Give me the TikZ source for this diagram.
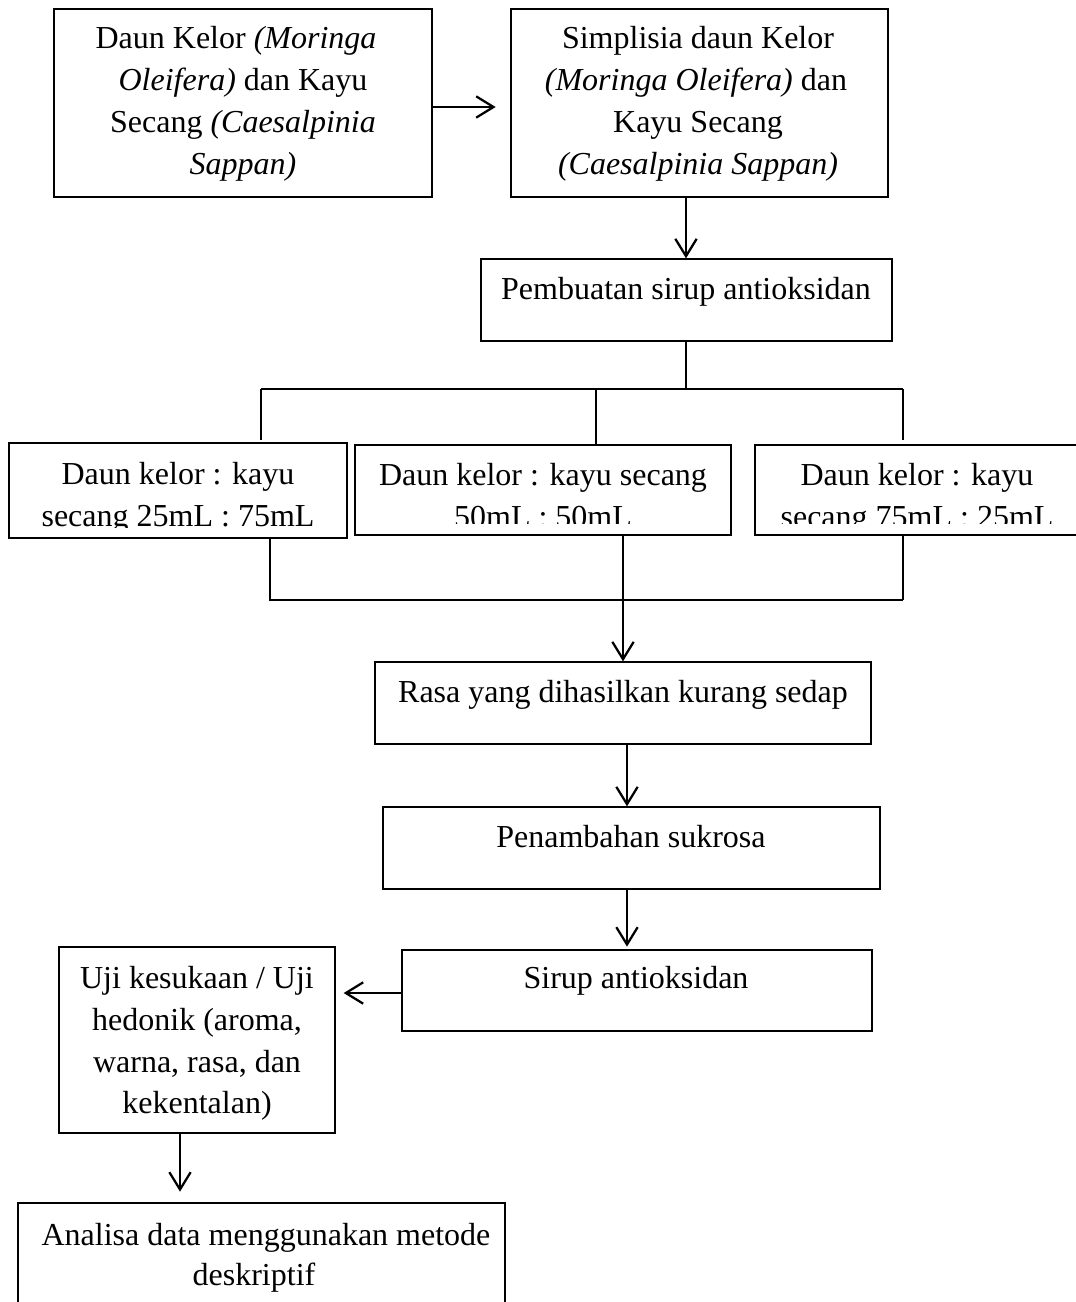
\documentclass[tikz,border=0pt]{standalone}
\usepackage{fontspec}
\setmainfont{Liberation Serif}
\usetikzlibrary{arrows.meta,fit}
\begin{document}
\begin{tikzpicture}[x=0.75pt,y=-0.75pt,
  box/.style={draw,line width=1pt,inner sep=0pt,rectangle},
  txt/.style={anchor=base,inner sep=0pt,font=\fontsize{24}{31.5}\selectfont},
  arr/.style={line width=1.7pt,-{Straight Barb[length=13pt,width=16pt,line width=1.7pt]}},
  ln/.style={line width=0.8pt}]
\useasboundingbox (0,0) rectangle (1075,1302);

% ---------- boxes ----------
\node[box, fit={(54,9) (432,197)}] (n1) {};
\node[box, fit={(511,9) (888,197)}] (n2) {};
\node[box, fit={(481,259) (892,341)}] (n3) {};
\node[box, fit={(9,443) (347,538)}] (nA) {};
\node[box, fit={(355,445) (731,535)}] (nB) {};
\node[box, fit={(755,445) (1079,535)}] (nC) {};
\node[box, fit={(375,662) (871,744)}] (rasa) {};
\node[box, fit={(383,807) (880,889)}] (pen) {};
\node[box, fit={(402,950) (872,1031)}] (sirup) {};
\node[box, fit={(59,947) (335,1133)}] (uji) {};
\node[box, fit={(18,1203) (505,1320)}] (ana) {};

% ---------- texts ----------
\node[txt] (t11) at (236,49) {Daun Kelor \textit{(Moringa}};
\node[txt] (t12) at (243,91) {\textit{Oleifera)} dan Kayu};
\node[txt] (t13) at (243,133) {Secang \textit{(Caesalpinia}};
\node[txt] (t14) at (243,175) {\textit{Sappan)}};

\node[txt] (t21) at (698,49) {Simplisia daun Kelor};
\node[txt] (t22) at (696,91) {\textit{(Moringa Oleifera)} dan};
\node[txt] (t23) at (698,133) {Kayu Secang};
\node[txt] (t24) at (698,175) {\textit{(Caesalpinia Sappan)}};

\node[txt] (t3) at (686,299) {Pembuatan sirup antioksidan};

\begin{scope}
  \clip (9,443) rectangle (347,527);
  \node[txt] (tA1) at (178,484) {Daun kelor : kayu};
  \node[txt] (tA2) at (178,526) {secang 25mL : 75mL};
\end{scope}
\begin{scope}
  \clip (355,445) rectangle (731,523.5);
  \node[txt] (tB1) at (543,485) {Daun kelor : kayu secang};
  \node[txt] (tB2) at (543,527) {50mL : 50mL};
\end{scope}
\begin{scope}
  \clip (755,445) rectangle (1079,523.5);
  \node[txt] (tC1) at (917,485) {Daun kelor : kayu};
  \node[txt] (tC2) at (917,527) {secang 75mL : 25mL};
\end{scope}

\node[txt] (tr) at (623,702) {Rasa yang dihasilkan kurang sedap};
\node[txt] (tp) at (631,847) {Penambahan sukrosa};
\node[txt] (ts) at (636,988) {Sirup antioksidan};

\node[txt] (tu1) at (197,988) {Uji kesukaan / Uji};
\node[txt] (tu2) at (197,1030) {hedonik (aroma,};
\node[txt] (tu3) at (197,1072) {warna, rasa, dan};
\node[txt] (tu4) at (197,1113) {kekentalan)};

\node[txt] (ta1) at (266,1245) {Analisa data menggunakan metode};
\node[txt] (ta2) at (254,1285) {deskriptif};

% ---------- helper coordinates ----------
\coordinate (y107) at (0,107);
\coordinate (x686) at (686,0);
\coordinate (fork) at (686,389);
\coordinate (fA) at (261,389);
\coordinate (fB) at (596,389);
\coordinate (fC) at (903,389);
\coordinate (eA) at (261,440);
\coordinate (eC) at (903,440);
\coordinate (mA) at (270,600);
\coordinate (mB) at (623,600);
\coordinate (mC) at (903,600);
\coordinate (x627) at (627,0);
\coordinate (y993) at (0,993);
\coordinate (x180) at (180,0);

% ---------- connectors ----------
\draw[arr] (n1.east |- y107) -- (n2.west |- y107) [shorten >=11pt];
\draw[arr] (n2.south -| x686) -- (n3.north -| x686);
\draw[ln] (n3.south -| x686) -- (fork);
\draw[ln] (fA) -- (fC);
\draw[ln] (fA) -- (eA);
\draw[ln] (fB) -- (nB.north -| fB);
\draw[ln] (fC) -- (eC);

\draw[ln] (nA.south -| mA) -- (mA) -- (mC);
\draw[ln] (nC.south -| mC) -- (mC);
\draw[ln] (nB.south -| mB) -- (mB);
\draw[arr] (mB) -- (rasa.north -| mB);

\draw[arr] (rasa.south -| x627) -- (pen.north -| x627);
\draw[arr] (pen.south -| x627) -- (sirup.north -| x627) [shorten >=2pt];
\draw[arr] (sirup.west |- y993) -- (uji.east |- y993) [shorten >=6pt];
\draw[arr] (uji.south -| x180) -- (ana.north -| x180) [shorten >=8pt];
\end{tikzpicture}
\end{document}
